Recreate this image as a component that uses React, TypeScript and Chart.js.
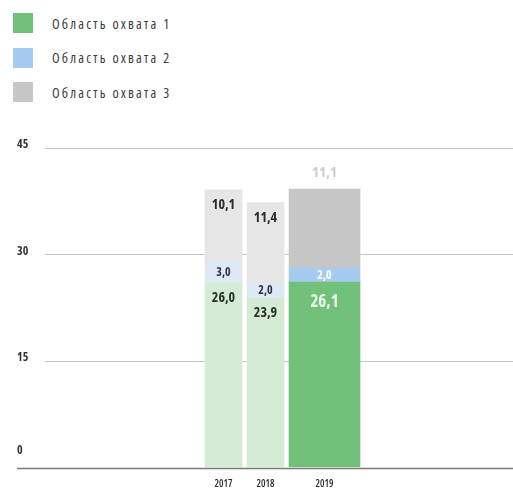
import React, { useEffect, useRef } from 'react';
import { Chart, CategoryScale, registerables } from 'chart.js';

Chart.register(...registerables);

// ---------- data ----------
const years = ['2017', '2018', '2019'];
const seriesNames = ['Область охвата 1', 'Область охвата 2', 'Область охвата 3'];
const area1 = [26.0, 23.9, 26.1];
const area2 = [3.0, 2.0, 2.0];
const area3 = [10.1, 11.4, 11.1];
const yTicks = [0, 15, 30, 45];
const highlightYear = '2019';

// ---------- style ----------
const FAMILY = "'Open Sans', 'DejaVu Sans Condensed', sans-serif";
const strongColors = ['#72c17a', '#a6cbf0', '#c6c6c6'];
const lightColors = ['#d5ebd6', '#dfe9f5', '#e6e6e6'];
const NARROW = 37;
const WIDE = 71;
const GAP = 5;

class ClusterScale extends CategoryScale {
  static id = 'cluster';
  static defaults = { ...(CategoryScale as any).defaults };
  getPixelForValue(value: any) {
    if (typeof value !== 'number') value = (this as any).parse(value);
    if (value === null || value === undefined || isNaN(value)) return NaN;
    const o: any = this.options;
    const widths: number[] = o.slotWidths;
    const gap: number = o.slotGap;
    const total = widths.reduce((a, b) => a + b, 0) + gap * (widths.length - 1);
    let x = this.left + this.width * o.clusterCenter - total / 2;
    for (let k = 0; k < value; k++) x += widths[k] + gap;
    return x + widths[value] / 2;
  }
}
Chart.register(ClusterScale as any);

const fmt = (v: number) => v.toFixed(1).replace('.', ',');

function setFont(ctx: any, weight: number, size: number) {
  ctx.font = `${weight} ${size}px ${FAMILY}`;
  try { ctx.fontStretch = 'condensed'; } catch (e) { /* ignore */ }
}

const labelPlugin = {
  id: 'segLabels',
  afterDatasetsDraw(chart: any) {
    const ctx = chart.ctx;
    ctx.save();
    ctx.textAlign = 'center';
    ctx.textBaseline = 'middle';
    chart.data.datasets.forEach((ds: any, di: number) => {
      const meta = chart.getDatasetMeta(di);
      meta.data.forEach((el: any, i: number) => {
        const v = ds.data[i];
        if (v === null || v === undefined) return;
        const s = ds.seriesIndex;
        const strong = ds.strong;
        let y = el.y;
        let size = 14;
        let color = '#2b2b2b';
        if (s === 2) {
          if (strong) { y = el.y - 16; size = 15; color = '#cdcdcd'; }
          else { y = el.y + 15; size = 14; color = '#2b2b2b'; }
        } else if (s === 1) {
          y = (el.y + el.base) / 2;
          size = 12;
          color = strong ? '#ffffff' : '#26314a';
        } else {
          if (strong) { y = el.y + 20; size = 17; color = '#eaf7ea'; }
          else { y = el.y + 15; size = 14; color = '#263326'; }
        }
        setFont(ctx, 700, size);
        ctx.fillStyle = color;
        ctx.fillText(fmt(v), el.x, y);
      });
    });
    ctx.restore();
  },
};

const axisPlugin = {
  id: 'axisDecor',
  afterDatasetsDraw(chart: any) {
    const ctx = chart.ctx;
    const yScale = chart.scales.y;
    const xScale = chart.scales.x;
    ctx.save();
    // zero baseline
    const y0 = Math.round(yScale.getPixelForValue(0)) + 0.5;
    ctx.strokeStyle = '#7a7a7a';
    ctx.lineWidth = 1.5;
    ctx.beginPath();
    ctx.moveTo(17, y0);
    ctx.lineTo(chart.width, y0);
    ctx.stroke();
    // y tick labels
    setFont(ctx, 700, 12);
    ctx.fillStyle = '#333333';
    ctx.textAlign = 'left';
    ctx.textBaseline = 'middle';
    yTicks.forEach((t) => {
      const y = yScale.getPixelForValue(t) + (t === 0 ? -17 : -3);
      ctx.fillText(String(t), 17, y);
    });
    // x tick labels
    setFont(ctx, 600, 10);
    ctx.fillStyle = '#2b2b2b';
    ctx.textAlign = 'center';
    xScale.ticks.forEach((t: any, i: number) => {
      ctx.fillText(xScale.getLabelForValue(t.value), xScale.getPixelForTick(i), y0 + 15.5);
    });
    ctx.restore();
  },
};

export default function App() {
  const canvasRef = useRef<HTMLCanvasElement | null>(null);

  useEffect(() => {
    const hi = years.indexOf(highlightYear);
    const series = [area1, area2, area3];
    const datasets: any[] = [];
    series.forEach((vals, s) => {
      datasets.push({
        label: seriesNames[s], seriesIndex: s, strong: false,
        data: vals.map((v, i) => (i === hi ? null : v)),
        backgroundColor: lightColors[s], barThickness: NARROW, grouped: false, borderWidth: 0,
      });
      datasets.push({
        label: seriesNames[s], seriesIndex: s, strong: true,
        data: vals.map((v, i) => (i === hi ? v : null)),
        backgroundColor: strongColors[s], barThickness: WIDE, grouped: false, borderWidth: 0,
      });
    });

    const chart = new Chart(canvasRef.current as HTMLCanvasElement, {
      type: 'bar',
      data: { labels: years, datasets },
      options: {
        animation: false,
        responsive: true,
        maintainAspectRatio: false,
        layout: { padding: { left: 45, right: 0, top: 148, bottom: 22.5 } },
        plugins: { legend: { display: false }, tooltip: { enabled: false } },
        scales: {
          x: {
            type: 'cluster',
            slotWidths: years.map((y) => (y === highlightYear ? WIDE : NARROW)),
            slotGap: GAP,
            clusterCenter: 0.5075,
            stacked: true,
            grid: { display: false, drawTicks: false },
            border: { display: false },
            ticks: { display: false },
          } as any,
          y: {
            stacked: true, min: 0, max: 45,
            ticks: { display: false, stepSize: 15 },
            grid: {
              drawTicks: false, lineWidth: 1,
              color: (c: any) => (c.tick && c.tick.value === 0 ? 'rgba(0,0,0,0)' : '#c6c6c6'),
            },
            border: { display: false },
          },
        },
      },
      plugins: [labelPlugin, axisPlugin],
    });
    return () => chart.destroy();
  }, []);

  return (
    <div style={{ position: 'absolute', left: 0, top: 0, width: 513, height: 490, background: '#fff' }}>
      <div
        style={{
          position: 'absolute', left: 13, top: 13, fontFamily: FAMILY, fontStretch: 'semi-condensed' as any,
          fontWeight: 500, fontSize: 14, letterSpacing: '2.2px', color: '#3a3a3a',
        }}
      >
        {seriesNames.map((n, i) => (
          <div key={n} style={{ display: 'flex', alignItems: 'center', height: 20, marginBottom: 14.5 }}>
            <span style={{ width: 20, height: 20, background: strongColors[i], display: 'inline-block', flex: 'none' }} />
            <span style={{ marginLeft: 19, whiteSpace: 'nowrap' }}>{n}</span>
          </div>
        ))}
      </div>
      <div style={{ position: 'absolute', left: 0, top: 0, width: 513, height: 490 }}>
        <canvas ref={canvasRef} />
      </div>
    </div>
  );
}
